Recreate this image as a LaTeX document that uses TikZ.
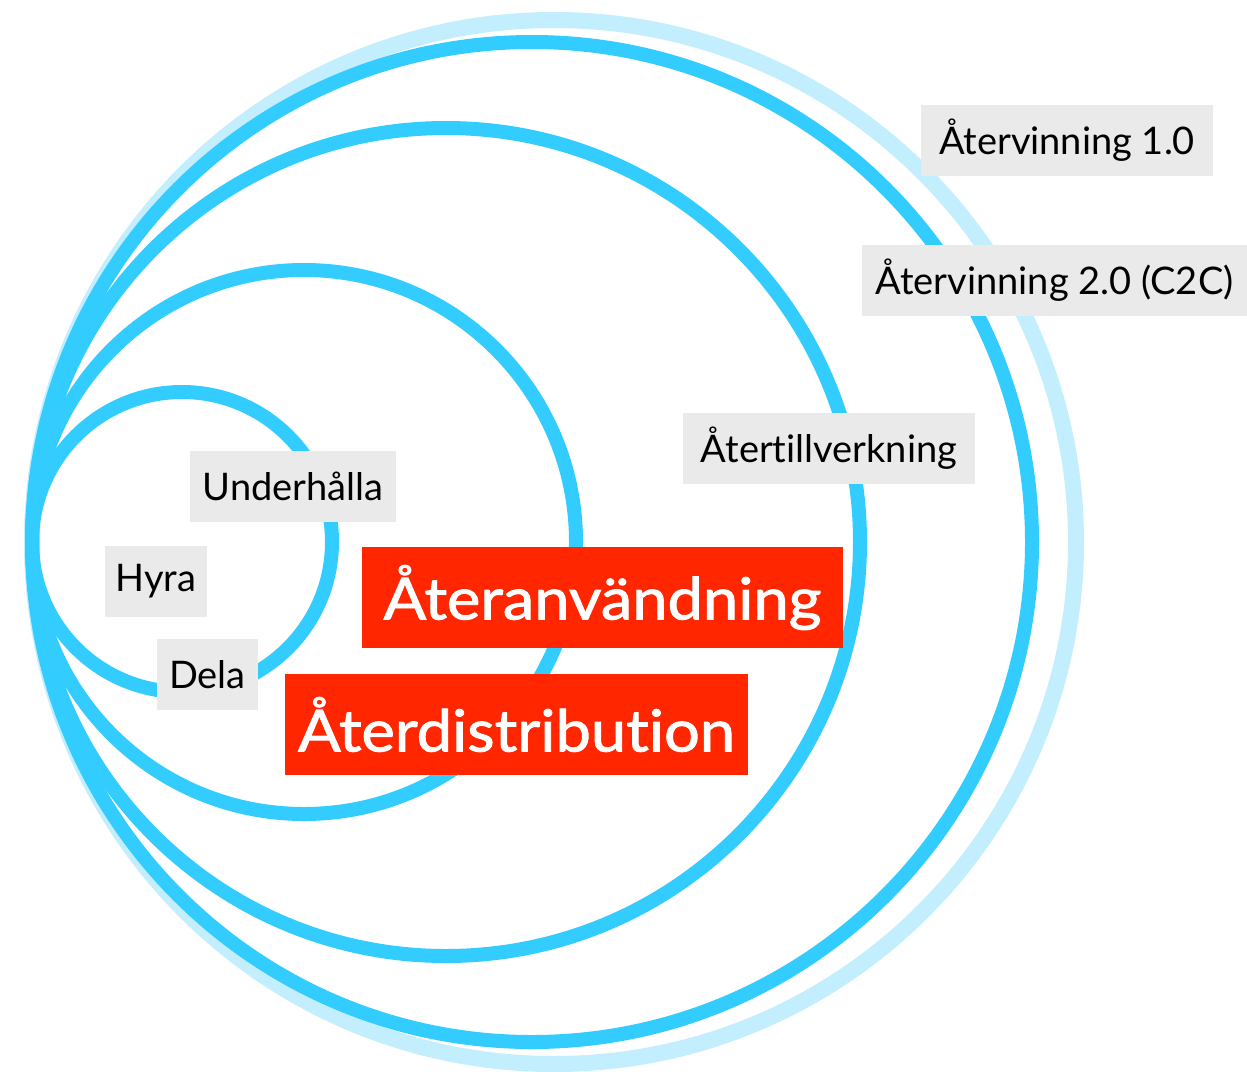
\documentclass[tikz,border=0pt]{standalone}
\usepackage{fontspec}
\setmainfont{Lato}[Ligatures=NoCommon]
\newfontfamily\medfont{Lato}[Ligatures=NoCommon,FakeBold=1.6,FakeStretch=1.09]
\definecolor{ringblue}{HTML}{33CCFF}
\definecolor{ringlight}{HTML}{C2EEFE}
\definecolor{boxgray}{HTML}{EAEAEA}
\definecolor{boxred}{HTML}{FF2600}
\begin{document}
\begin{tikzpicture}[x=1pt,y=-1pt,
  ring/.style={draw=ringblue,line width=14pt},
  lightring/.style={draw=ringlight,line width=16pt},
  graybox/.style={fill=boxgray,inner sep=0pt,minimum height=71pt,text=black,font=\fontsize{38}{46}\selectfont},
  redbox/.style={fill=boxred,inner sep=0pt,minimum height=101pt,text=white,font=\fontsize{58}{68}\medfont}]
\useasboundingbox[fill=white] (0,0) rectangle (1247,1071);
\draw[lightring] (554,542) circle[radius=522pt];
\draw[ring] (532,542) circle[radius=500pt];
\draw[ring] (446,542) circle[radius=414pt];
\draw[ring] (304,542) circle[radius=272pt];
\draw[ring] (182,542) circle[radius=150pt];
\node[graybox,minimum width=292pt] (r1) at (1067,140.5) {Återvinning 1.0};
\node[graybox,minimum width=385pt] (r2) at (1054.5,280.5) {Återvinning 2.0 (C2C)};
\node[graybox,minimum width=292pt] (at) at (829,448.5) {Återtillverkning};
\node[graybox,minimum width=206pt] (un) at (293,486) {Underhålla};
\node[graybox,minimum width=102pt] (hy) at (156,581) {Hyra};
\node[graybox,minimum width=101pt] (de) at (207.5,674.5) {Dela};
\node[redbox,minimum width=481pt] (aa) at (602.5,597.5) {Återanvändning};
\node[redbox,minimum width=463pt] (ad) at (516.5,724.5) {Återdistribution};
\end{tikzpicture}
\end{document}
